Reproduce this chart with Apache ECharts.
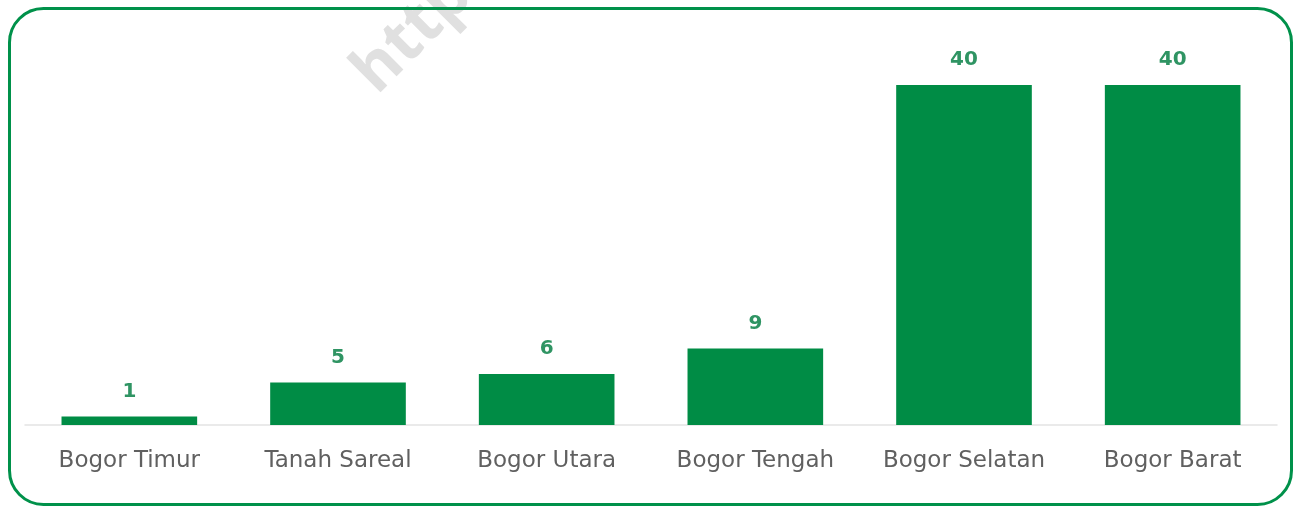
<!DOCTYPE html>
<html>
<head>
<meta charset="utf-8">
<style>
  html, body { margin: 0; padding: 0; background: #ffffff; }
  #chart { width: 1298px; height: 508px; }
</style>
<script src="https://cdn.jsdelivr.net/npm/echarts@6/dist/echarts.min.js"></script>
</head>
<body>
<div id="chart"></div>
<script>
// Kecamatan di Kota Bogor
const categories = ['Bogor Timur', 'Tanah Sareal', 'Bogor Utara', 'Bogor Tengah', 'Bogor Selatan', 'Bogor Barat'];
const values = [1, 5, 6, 9, 40, 40];

const chart = echarts.init(document.getElementById('chart'), null, { renderer: 'canvas' });

chart.setOption({
  backgroundColor: '#ffffff',
  animation: false,
  grid: { left: 25, right: 21, top: 85, bottom: 83, containLabel: false },
  xAxis: {
    type: 'category',
    data: categories,
    axisLine: { show: true, lineStyle: { color: '#e3e3e3', width: 1.5 } },
    axisTick: { show: false },
    axisLabel: {
      interval: 0,
      hideOverlap: false,
      color: '#606060',
      fontFamily: 'DejaVu Sans',
      fontSize: 23,
      margin: 25
    }
  },
  yAxis: {
    type: 'value',
    min: 0,
    max: 40,
    show: false,
    splitLine: { show: false }
  },
  series: [{
    type: 'bar',
    data: values,
    barWidth: '65%',
    itemStyle: { color: '#008c45' },
    label: {
      show: true,
      position: 'top',
      distance: 15,
      color: '#2f9463',
      fontFamily: 'DejaVu Sans',
      fontWeight: 'bold',
      fontSize: 20
    }
  }],
  graphic: [
    {
      type: 'text',
      z: -1,
      x: 413,
      y: 34,
      rotation: Math.PI / 4,
      style: {
        text: 'http',
        font: 'bold 64px "Open Sans"',
        fill: '#e0e0e0',
        align: 'center',
        verticalAlign: 'middle'
      }
    },
    {
      type: 'rect',
      z: 10,
      shape: { x: 9.5, y: 8.5, width: 1282, height: 496, r: 34 },
      style: { fill: 'none', stroke: '#00914a', lineWidth: 3 }
    }
  ]
});
</script>
</body>
</html>
